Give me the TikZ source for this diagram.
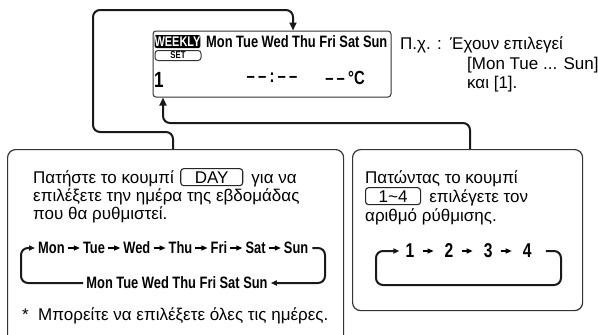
\documentclass[tikz,border=0pt]{standalone}
\usepackage{fontspec}
\setmainfont{Liberation Sans}
\newfontfamily\lcdfont[FakeStretch=0.78]{Liberation Sans}
\usepackage{tikz}
\usetikzlibrary{positioning}
\usetikzlibrary{arrows.meta}
\usetikzlibrary{calc}

\begin{document}
\begin{tikzpicture}[
    x=1pt, y=-1pt,
    font=\fontsize{17}{18}\selectfont,
    panel/.style={
        draw=black!80,
        line width=1.2pt,
        rounded corners=8pt
    },
    lcd/.style={
        draw=black!80,
        line width=1pt,
        rounded corners=3pt
    },
    key/.style={
        draw=black!85,
        line width=1.1pt,
        rounded corners=3pt,
        inner sep=0pt,
        minimum height=17pt
    },
    txt/.style={inner sep=0pt},
    day/.style={
        inner sep=0pt,
        font=\lcdfont\bfseries\fontsize{16.5}{16.5}\selectfont
    },
    digit/.style={
        inner sep=0pt,
        font=\lcdfont\bfseries\fontsize{20}{20}\selectfont
    },
    loopline/.style={
        draw=black!90,
        line width=2pt,
        rounded corners=7pt
    },
    arrowed/.style={-{Triangle[length=8pt,width=7pt]}},
    minor/.style={
        -{Triangle[length=6pt,width=5pt]},
        line width=1.2pt,
        shorten <=3pt,
        shorten >=3pt
    },
    numstep/.style={
        minor,
        shorten <=8pt,
        shorten >=11pt
    }
]
\useasboundingbox (0,0) rectangle (598,335);

% --- Display
\node[lcd, minimum width=238pt, minimum height=66pt] (display) at (272,64) {};
\node[fill=black, text=white, rounded corners=2pt, inner sep=0pt,
      minimum width=45pt, minimum height=13pt,
      font=\lcdfont\bfseries\fontsize{14}{14}\selectfont] (weekly) at (177.5,41.5) {WEEKLY};
\node[day, anchor=west] (lcddays) at (206,42) {Mon Tue Wed Thu Fri Sat Sun};
\node[lcd, inner sep=0pt, minimum width=46pt, minimum height=10pt,
      font=\lcdfont\bfseries\fontsize{10}{10}\selectfont] (setkey) at (178,55.5) {SET};
\node[digit, font=\lcdfont\bfseries\fontsize{22}{22}\selectfont] (prog) at (159,80) {1};
\node[day, font=\lcdfont\bfseries\fontsize{19}{19}\selectfont] (clock) at (272,78) {–\,–\,:\,–\,–};
\node[day, font=\lcdfont\bfseries\fontsize{19}{19}\selectfont] (temp) at (345,78) {–\,–\,°C};

% --- Example note
\node[txt, anchor=base west] (eg) at (400,49) {Π.χ. :};
\node[txt, anchor=base west] (egline1) at (450,49) {Έχουν επιλεγεί};
\node[txt, anchor=base west] (egline2) at (467,69) {[Mon Tue ... Sun]};
\node[txt, anchor=base west] (egline3) at (467,88) {και [1].};

% --- Left panel
\node[panel, anchor=north west, minimum width=336pt, minimum height=200pt] (leftbox) at (7,149) {};
\node[txt, anchor=base west] (press) at (33,183) {Πατήστε το κουμπί};
\node[key, anchor=base west, minimum width=62pt] (daykey) at ([xshift=6pt]press.base east) {DAY};
\node[txt, anchor=base west] (forto) at ([xshift=8pt]daykey.base east) {για να};
\node[txt, anchor=base west] (choose) at (33,201) {επιλέξετε την ημέρα της εβδομάδας};
\node[txt, anchor=base west] (setday) at (33,219) {που θα ρυθμιστεί.};

\node[day, anchor=west] (mon) at (38,248) {Mon};
\node[day, right=18pt of mon] (tue) {Tue};
\node[day, right=18pt of tue] (wed) {Wed};
\node[day, right=18pt of wed] (thu) {Thu};
\node[day, right=18pt of thu] (fri) {Fri};
\node[day, right=18pt of fri] (sat) {Sat};
\node[day, right=18pt of sat] (sun) {Sun};
\node[day] (allrow) at (177,283) {Mon Tue Wed Thu Fri Sat Sun};
\node[txt, anchor=base west] (allnote) at (22,320) {*\ \ Μπορείτε να επιλέξετε όλες τις ημέρες.};

\draw[minor] (mon) -- (tue);
\draw[minor] (tue) -- (wed);
\draw[minor] (wed) -- (thu);
\draw[minor] (thu) -- (fri);
\draw[minor] (fri) -- (sat);
\draw[minor] (sat) -- (sun);
\draw[loopline, minor, line width=2pt] ([xshift=1pt]sun.east) -| (325,283) -- (allrow.east);
\draw[loopline, minor, line width=2pt] (allrow.west) -| (21,248) -- (mon.west);

% --- Right panel
\node[panel, anchor=north west, minimum width=230pt, minimum height=161pt] (rightbox) at (352,149) {};
\node[txt, anchor=base west] (pressing) at (365,183) {Πατώντας το κουμπί};
\node[key, anchor=base west, minimum width=55pt] (numkey) at (365,202) {1\textasciitilde 4};
\node[txt, anchor=base west] (select) at ([xshift=8pt]numkey.base east) {επιλέγετε τον};
\node[txt, anchor=base west] (number) at (365,221) {αριθμό ρύθμισης.};

\node[digit] (n1) at (410,251) {1};
\node[digit, right=30pt of n1] (n2) {2};
\node[digit, right=30pt of n2] (n3) {3};
\node[digit, right=30pt of n3] (n4) {4};
\draw[numstep] (n1) -- (n2);
\draw[numstep] (n2) -- (n3);
\draw[numstep] (n3) -- (n4);
\draw[loopline, minor, line width=2pt, shorten <=14pt, shorten >=6pt] (n4.east) -| (561,285) -| (376,251) -- (n1.west);

% --- Connections
\draw[loopline, arrowed] (leftbox.north -| 173,0) |- (93,132) |- (293,10) -- (display.north -| 293,0);
\draw[loopline, arrowed] (rightbox.north -| 470,0) |- (163,123) -- (display.south -| 163,0);

\end{tikzpicture}
\end{document}
